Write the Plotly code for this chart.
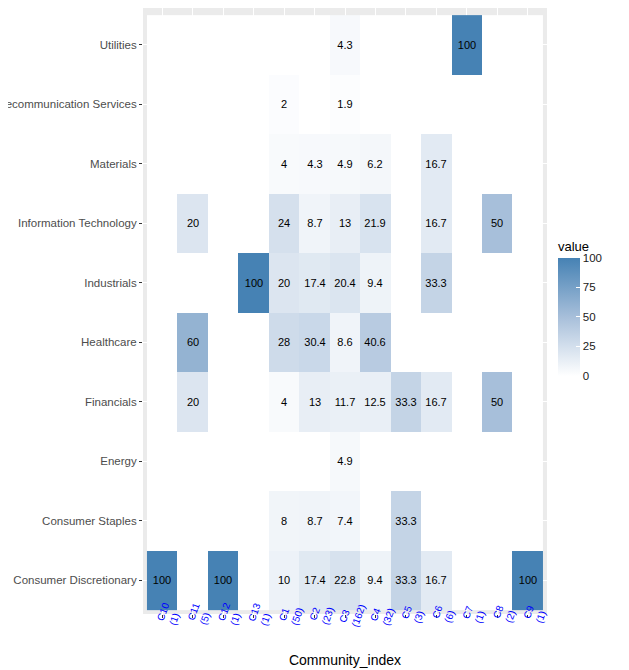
import plotly.graph_objects as go

# Communities (x) and their sizes
communities = ["C10", "C11", "C12", "C13", "C1", "C2", "C3", "C4", "C5", "C6", "C7", "C8", "C9"]
community_sizes = [1, 5, 1, 1, 50, 23, 162, 32, 3, 6, 1, 2, 1]

# Sectors, bottom to top
sectors = ["Consumer Discretionary", "Consumer Staples", "Energy", "Financials", "Healthcare",
           "Industrials", "Information Technology", "Materials", "Telecommunication Services", "Utilities"]

# share (%) of each community per sector, same order as communities (0 = empty)
consumer_discretionary = [100, 0, 100, 0, 10, 17.4, 22.8, 9.4, 33.3, 16.7, 0, 0, 100]
consumer_staples = [0, 0, 0, 0, 8, 8.7, 7.4, 0, 33.3, 0, 0, 0, 0]
energy = [0, 0, 0, 0, 0, 0, 4.9, 0, 0, 0, 0, 0, 0]
financials = [0, 20, 0, 0, 4, 13, 11.7, 12.5, 33.3, 16.7, 0, 50, 0]
healthcare = [0, 60, 0, 0, 28, 30.4, 8.6, 40.6, 0, 0, 0, 0, 0]
industrials = [0, 0, 0, 100, 20, 17.4, 20.4, 9.4, 0, 33.3, 0, 0, 0]
information_technology = [0, 20, 0, 0, 24, 8.7, 13, 21.9, 0, 16.7, 0, 50, 0]
materials = [0, 0, 0, 0, 4, 4.3, 4.9, 6.2, 0, 16.7, 0, 0, 0]
telecommunication = [0, 0, 0, 0, 2, 0, 1.9, 0, 0, 0, 0, 0, 0]
utilities = [0, 0, 0, 0, 0, 0, 4.3, 0, 0, 0, 100, 0, 0]

z = [consumer_discretionary, consumer_staples, energy, financials, healthcare,
     industrials, information_technology, materials, telecommunication, utilities]

def fmt(v):
    if v == 0:
        return ""
    return f"{v:g}"

text = [[fmt(v) for v in row] for row in z]

FONT = "Liberation Sans, Arial, sans-serif"

fig = go.Figure()
fig.add_trace(go.Heatmap(
    x=communities, y=sectors, z=z, text=text,
    texttemplate="%{text}",
    textfont=dict(family=FONT, size=11, color="black"),
    zmin=0, zmax=100,
    colorscale=[[0, "#FFFFFF"], [0.5, "#A7BFDA"], [1, "#4682B4"]],
    colorbar=dict(
        title=dict(text="value", side="top", font=dict(family=FONT, size=13, color="black")),
        x=1.027, xanchor="left", xpad=0,
        y=0.507, yanchor="middle", ypad=0,
        len=138, lenmode="pixels", thickness=22,
        outlinewidth=0,
        tickvals=[0, 25, 50, 75, 100],
        ticks="inside", ticklen=4, tickcolor="white",
        tickfont=dict(family=FONT, size=11.5, color="#1A1A1A"),
    ),
    hoverongaps=False,
))

# rotated x labels, written upward from the tick
for i, (c, n) in enumerate(zip(communities, community_sizes)):
    fig.add_annotation(
        x=i, y=0, xref="x", yref="paper",
        text=f"{c}<br>({n})", showarrow=False, align="left",
        textangle=-70, xshift=7, yshift=0,
        xanchor="center", yanchor="middle",
        font=dict(family=FONT, size=10, color="blue"),
    )

fig.update_xaxes(
    type="category", range=[-0.63, 12.63],
    showticklabels=False, ticks="outside", ticklen=3, tickcolor="#333333",
    showgrid=True, gridcolor="white", gridwidth=1, zeroline=False,
    title=dict(text="Community_index", font=dict(family=FONT, size=14, color="black"), standoff=38),
    automargin=False,
)
fig.update_yaxes(
    type="category", range=[-0.57, 9.62],
    ticks="outside", ticklen=3, tickcolor="#333333",
    tickfont=dict(family=FONT, size=11.5, color="#4D4D4D"),
    showgrid=True, gridcolor="white", gridwidth=1, zeroline=False,
    automargin=False,
)
# page shows the figure with an 8px offset, so size it a bit smaller
fig.update_layout(
    width=621, height=662,
    margin=dict(l=135, r=82, t=0, b=56),
    plot_bgcolor="#EBEBEB", paper_bgcolor="white",
    font=dict(family=FONT),
    showlegend=False,
)

fig.write_html("out.html")
